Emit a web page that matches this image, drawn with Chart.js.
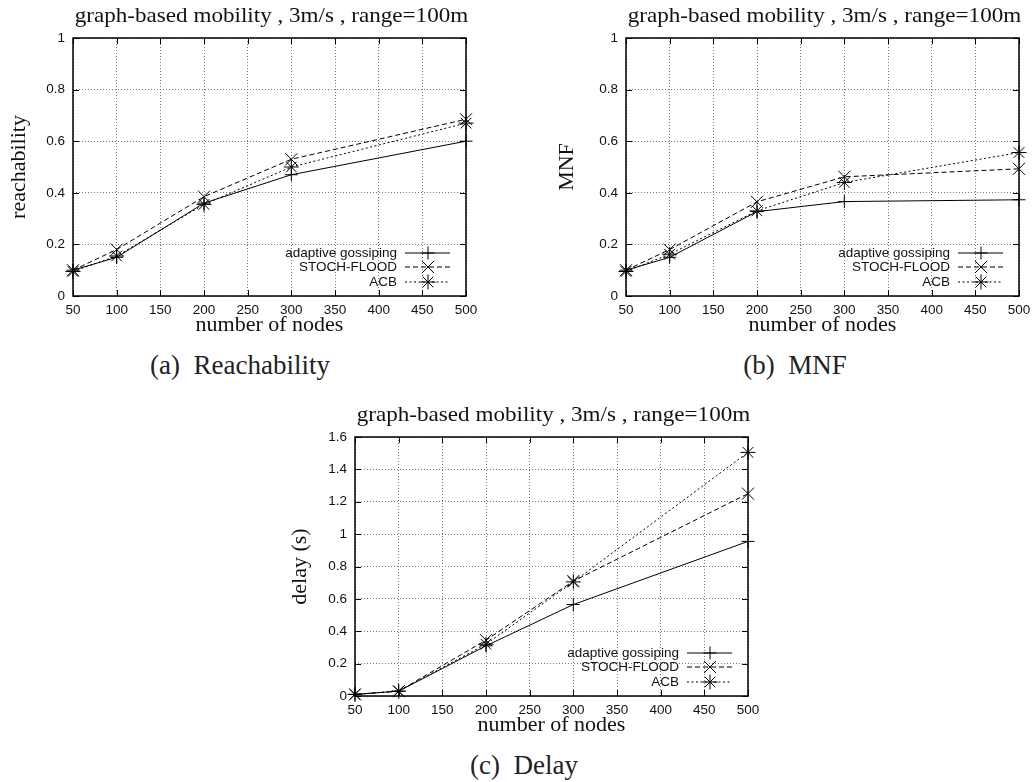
<!DOCTYPE html>
<html>
<head>
<meta charset="utf-8">
<script src="https://cdn.jsdelivr.net/npm/chart.js@4.4.0/dist/chart.umd.min.js"></script>
<style>
  html, body { margin: 0; padding: 0; background: #fff; overflow: hidden; }
  body { width: 1034px; height: 782px; position: relative; }
  .plot { position: absolute; }
  .cap { position: absolute; width: 300px; text-align: center; font-family: "Liberation Serif", serif; font-size: 27px; line-height: 30px; color: #222; white-space: pre; }
</style>
</head>
<body>
<div class="plot" style="left:-2px;top:-2px"><canvas id="reach" width="508" height="348"></canvas></div>
<div class="plot" style="left:551px;top:-2px"><canvas id="mnf" width="508" height="348"></canvas></div>
<div class="plot" style="left:280px;top:397px"><canvas id="delay" width="508" height="349"></canvas></div>
<div class="cap" style="left:90px;top:350px">(a)  Reachability</div>
<div class="cap" style="left:645px;top:350px">(b)  MNF</div>
<div class="cap" style="left:374px;top:750px">(c)  Delay</div>
<script>
const chartTitle = "graph-based mobility , 3m/s , range=100m";
const xTitle = "number of nodes";
const seriesNames = ["adaptive gossiping", "STOCH-FLOOD", "ACB"];
const nodes = [50, 100, 200, 300, 500];

const reachGossip = [0.10, 0.15, 0.36, 0.47, 0.60];
const reachStoch = [0.10, 0.18, 0.385, 0.53, 0.685];
const reachAcb = [0.095, 0.155, 0.355, 0.50, 0.67];

const mnfGossip = [0.10, 0.15, 0.327, 0.366, 0.373];
const mnfStoch = [0.10, 0.18, 0.365, 0.462, 0.493];
const mnfAcb = [0.095, 0.162, 0.33, 0.44, 0.556];

const delayGossip = [0.01, 0.03, 0.31, 0.565, 0.955];
const delayStoch = [0.01, 0.03, 0.345, 0.71, 1.25];
const delayAcb = [0.01, 0.03, 0.32, 0.705, 1.505];

Chart.defaults.font.family = "'Liberation Sans', Arial, sans-serif";
Chart.defaults.color = "#111";

// line look of each series, gnuplot style: solid/+, dashed/x, dotted/*
const looks = [
  { dash: [], style: "cross", radius: 6.5 },
  { dash: [5, 3], style: "crossRot", radius: 8.5 },
  { dash: [2, 2.5], style: "star", radius: 7.5 }
];

function drawMarker(ctx, style, r, x, y) {
  ctx.beginPath();
  if (style === "cross" || style === "star") {
    ctx.moveTo(x - r, y); ctx.lineTo(x + r, y);
    ctx.moveTo(x, y - r); ctx.lineTo(x, y + r);
  }
  if (style === "crossRot" || style === "star") {
    const d = r * Math.SQRT1_2;
    ctx.moveTo(x - d, y - d); ctx.lineTo(x + d, y + d);
    ctx.moveTo(x - d, y + d); ctx.lineTo(x + d, y - d);
  }
  ctx.stroke();
}

const gnuplotLook = {
  id: "gnu",
  afterDraw(chart, args, opts) {
    const ctx = chart.ctx, a = chart.chartArea;
    const sx = chart.scales.x, sy = chart.scales.y;
    ctx.save();
    ctx.strokeStyle = "#000";
    ctx.setLineDash([]);
    ctx.lineWidth = 1;
    // inward ticks on all four sides
    sx.ticks.forEach(t => {
      const px = Math.round(sx.getPixelForValue(t.value)) + 0.5;
      ctx.beginPath();
      ctx.moveTo(px, a.bottom); ctx.lineTo(px, a.bottom - 6);
      ctx.moveTo(px, a.top); ctx.lineTo(px, a.top + 6);
      ctx.stroke();
    });
    sy.ticks.forEach(t => {
      const py = Math.round(sy.getPixelForValue(t.value)) + 0.5;
      ctx.beginPath();
      ctx.moveTo(a.left, py); ctx.lineTo(a.left + 6, py);
      ctx.moveTo(a.right, py); ctx.lineTo(a.right - 6, py);
      ctx.stroke();
    });
    ctx.lineWidth = 1.5;
    ctx.strokeRect(a.left, a.top, a.right - a.left, a.bottom - a.top);

    // title, slightly widened like the original
    ctx.fillStyle = "#111";
    ctx.font = "22px 'Liberation Serif', serif";
    ctx.textAlign = "center";
    ctx.textBaseline = "alphabetic";
    ctx.save();
    ctx.translate((a.left + a.right) / 2 + 2, a.top - 16);
    ctx.scale(1.05, 1);
    ctx.fillText(opts.title, 0, 0);
    ctx.restore();

    // key inside the plot, bottom right
    ctx.font = "13.5px 'Liberation Sans', Arial, sans-serif";
    ctx.textAlign = "right";
    ctx.textBaseline = "middle";
    const rows = [a.bottom - 43, a.bottom - 29, a.bottom - 14];
    chart.data.datasets.forEach((ds, i) => {
      const y = rows[i];
      ctx.fillText(ds.label, a.right - 69, y + 0.5);
      ctx.lineWidth = 1;
      ctx.setLineDash(ds.borderDash);
      ctx.beginPath();
      ctx.moveTo(a.right - 61, y); ctx.lineTo(a.right - 16, y);
      ctx.stroke();
      ctx.setLineDash([]);
      drawMarker(ctx, ds.pointStyle, ds.pointRadius, a.right - 38, y);
    });
    ctx.restore();
  }
};

function makeChart(id, yTitle, yMax, values, yTitlePad) {
  const datasets = values.map((vals, i) => ({
    label: seriesNames[i],
    data: nodes.map((n, k) => ({ x: n, y: vals[k] })),
    borderColor: "#000",
    borderWidth: 1,
    borderDash: looks[i].dash,
    pointStyle: looks[i].style,
    pointRadius: looks[i].radius,
    pointBorderColor: "#000",
    pointBorderWidth: 1,
    pointBackgroundColor: "#000",
    fill: false,
    tension: 0,
    clip: false
  }));
  return new Chart(document.getElementById(id), {
    type: "line",
    data: { datasets },
    options: {
      responsive: false,
      animation: false,
      events: [],
      layout: { padding: { top: 40, right: 40, left: 0, bottom: 0 } },
      plugins: {
        legend: { display: false },
        tooltip: { enabled: false },
        gnu: { title: chartTitle }
      },
      scales: {
        x: {
          type: "linear", min: 50, max: 500,
          ticks: { stepSize: 50, padding: 6, autoSkip: false, maxRotation: 0, font: { size: 13.5 } },
          grid: { color: "#777", drawTicks: false },
          border: { display: false, dash: [1, 2] },
          title: { display: true, text: xTitle, color: "#111", font: { family: "'Liberation Serif', serif", size: 22 }, padding: { top: 0, bottom: 8 } },
          afterFit: s => { s.height = 50; }
        },
        y: {
          type: "linear", min: 0, max: yMax,
          ticks: { stepSize: 0.2, padding: 8, font: { size: 13.5 }, callback: v => String(+v.toFixed(2)) },
          grid: { color: "#777", drawTicks: false },
          border: { display: false, dash: [1, 2] },
          title: { display: true, text: yTitle, color: "#111", font: { family: "'Liberation Serif', serif", size: 22 }, padding: { top: yTitlePad, bottom: 0 } },
          afterFit: s => { s.width = 75; }
        }
      }
    },
    plugins: [gnuplotLook]
  });
}

makeChart("reach", "reachability", 1, [reachGossip, reachStoch, reachAcb], 8);
makeChart("mnf", "MNF", 1, [mnfGossip, mnfStoch, mnfAcb], 3);
makeChart("delay", "delay (s)", 1.6, [delayGossip, delayStoch, delayAcb], 7);
</script>
</body>
</html>
